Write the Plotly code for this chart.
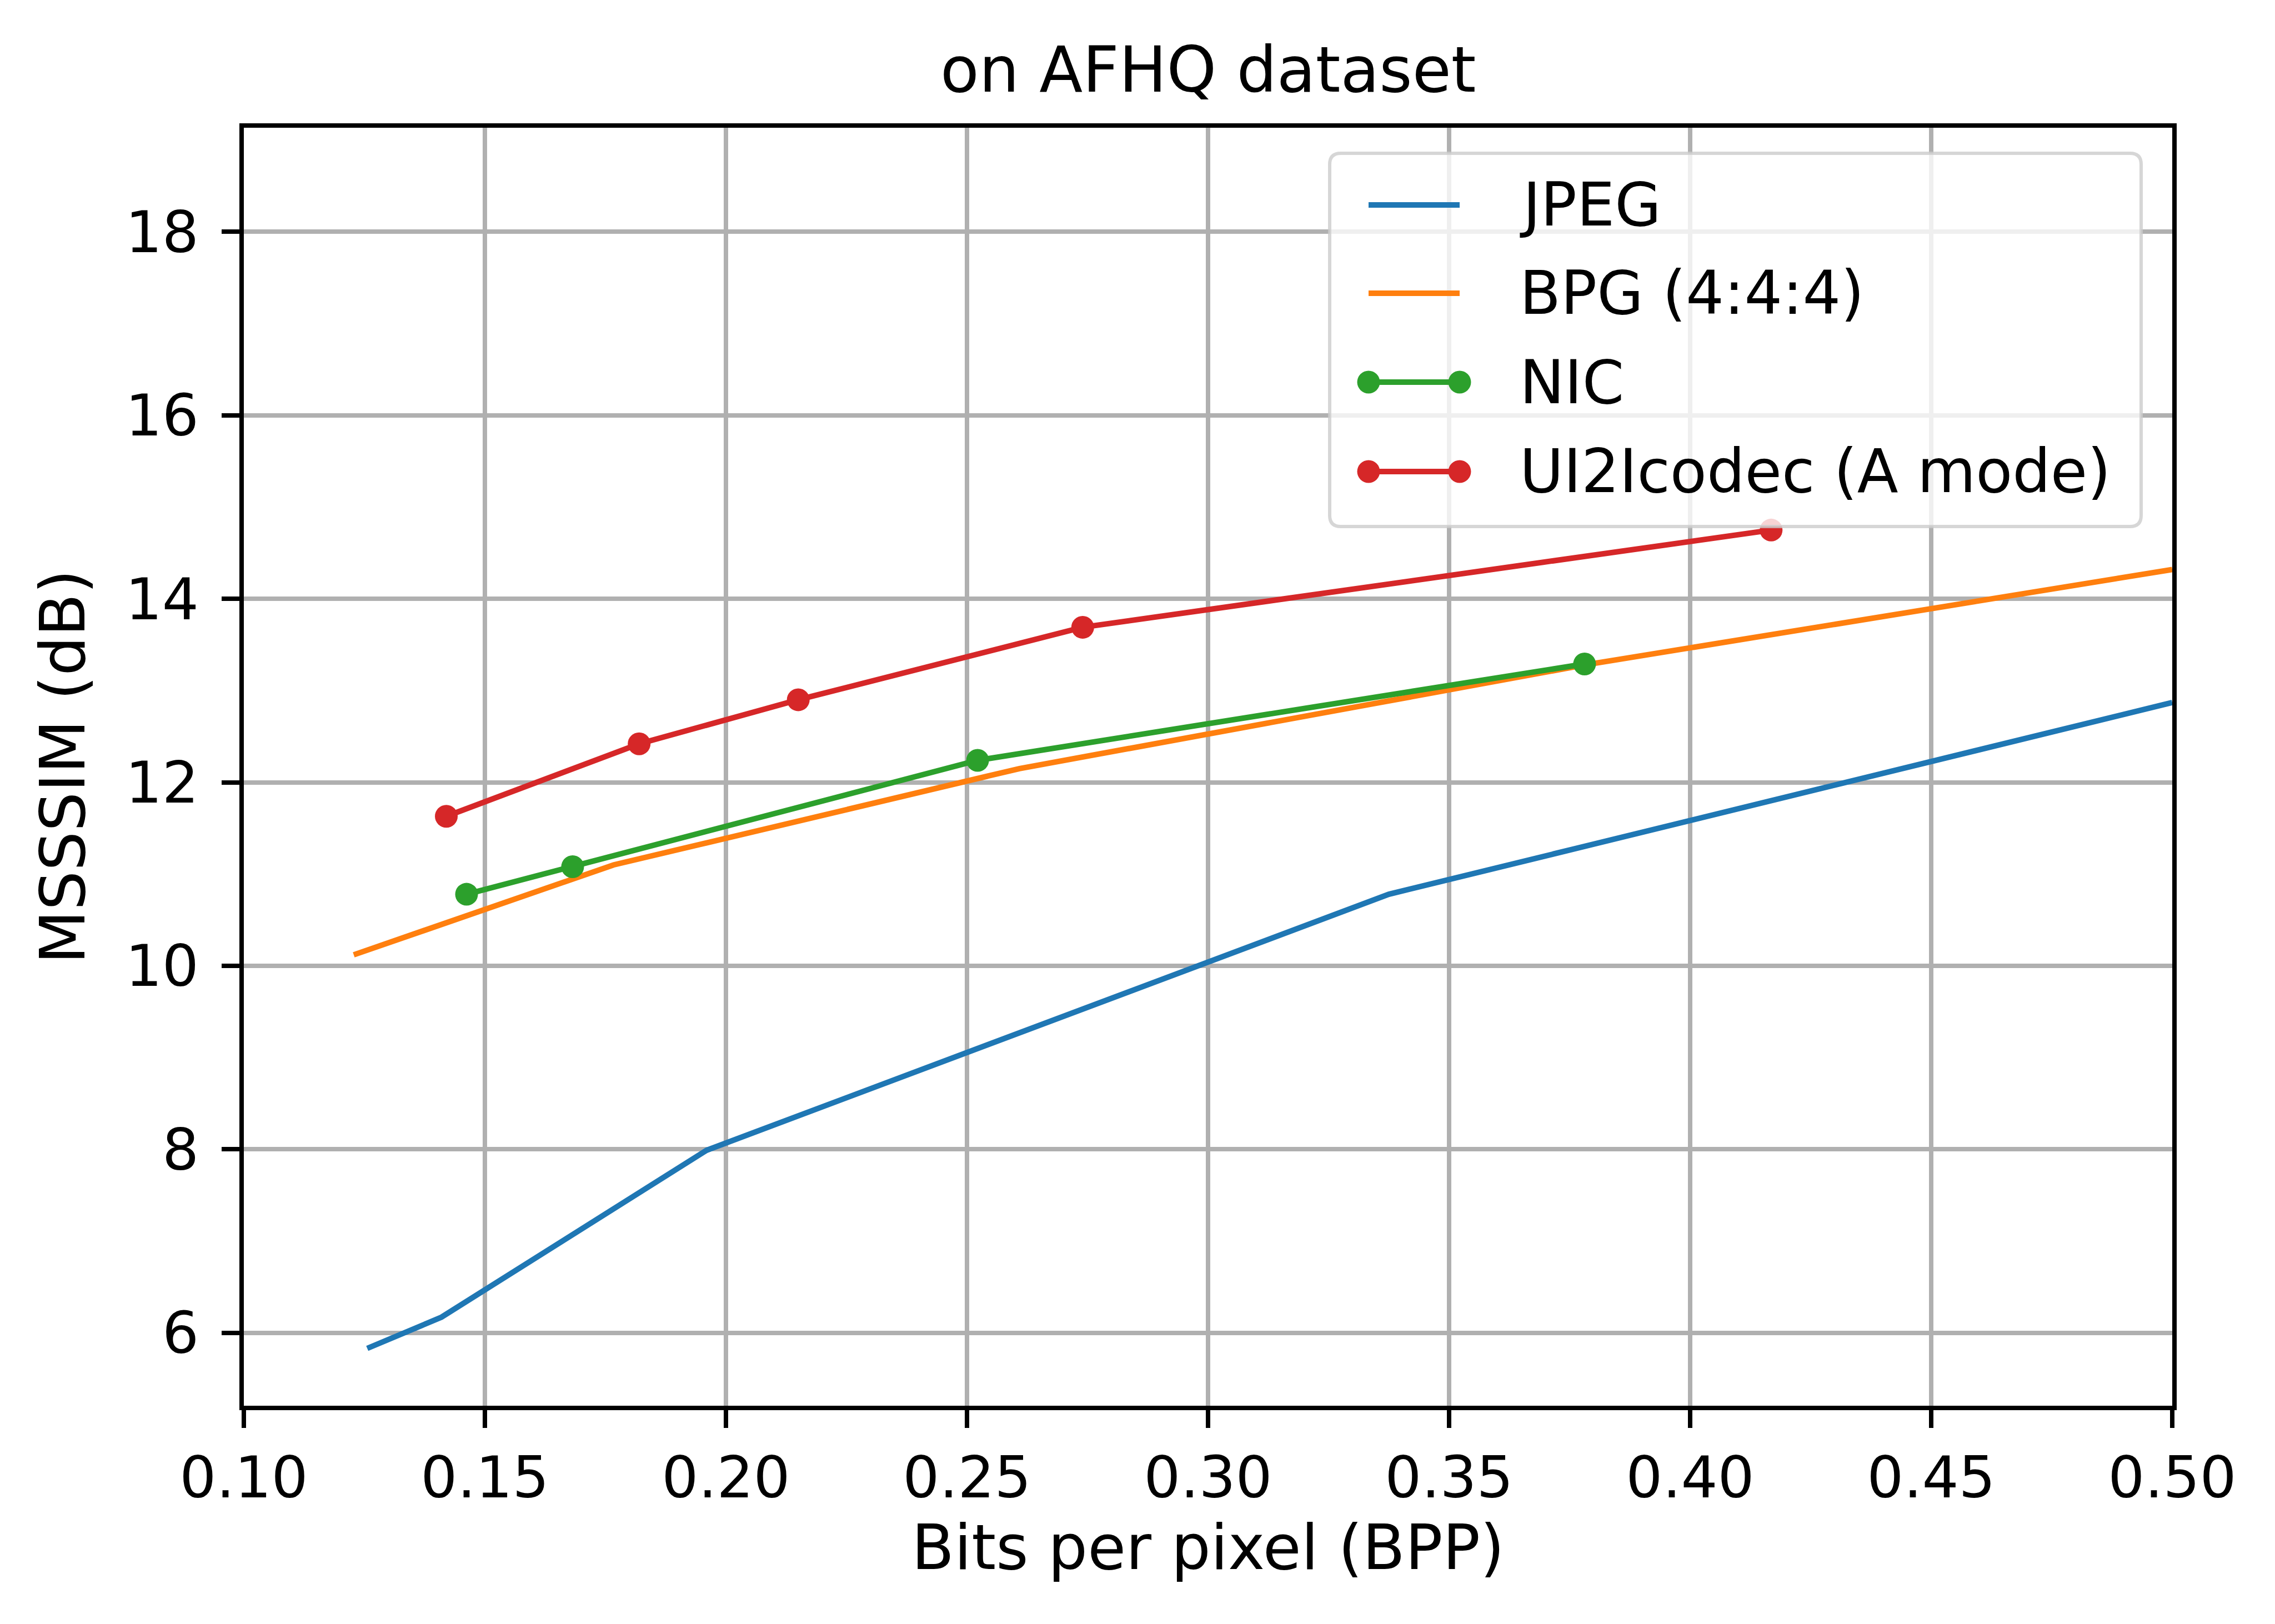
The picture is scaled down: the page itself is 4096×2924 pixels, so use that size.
import plotly.graph_objects as go

# ---------------- data ----------------
series_names = ["JPEG", "BPG (4:4:4)", "NIC", "UI2Icodec (A mode)"]
series_colors = ["#1f77b4", "#ff7f0e", "#2ca02c", "#d62728"]
series_markers = [False, False, True, True]

jpeg_bpp = [0.1256, 0.1410, 0.1960, 0.3375, 0.500]
jpeg_msssim = [5.83, 6.17, 7.99, 10.78, 12.87]

bpg_bpp = [0.1228, 0.1767, 0.2609, 0.3782, 0.500]
bpg_msssim = [10.12, 11.10, 12.15, 13.28, 14.32]

nic_bpp = [0.1462, 0.1682, 0.2522, 0.3781]
nic_msssim = [10.78, 11.08, 12.24, 13.29]

ui2i_bpp = [0.1420, 0.1820, 0.2150, 0.2740, 0.4168]
ui2i_msssim = [11.63, 12.42, 12.90, 13.69, 14.75]

x_ticks = [0.10, 0.15, 0.20, 0.25, 0.30, 0.35, 0.40, 0.45, 0.50]
y_ticks = [6, 8, 10, 12, 14, 16, 18]

title_text = "on AFHQ dataset"
x_title = "Bits per pixel (BPP)"
y_title = "MSSSIM (dB)"

series_x = [jpeg_bpp, bpg_bpp, nic_bpp, ui2i_bpp]
series_y = [jpeg_msssim, bpg_msssim, nic_msssim, ui2i_msssim]

# ---------------- layout geometry ----------------
W, H = 4096, 2924
L, R, T, B = 431, 193, 222, 401
pw = W - L - R
ph = H - T - B


def px(xp):
    return (xp - L) / pw


def py(yp):
    return (H - B - yp) / ph


FONT = "DejaVu Sans"
LW = 10
MS = 41

fig = go.Figure()
for name, xs, ys, col, mk in zip(series_names, series_x, series_y, series_colors, series_markers):
    fig.add_trace(go.Scatter(
        x=xs, y=ys, name=name,
        mode="lines+markers" if mk else "lines",
        line=dict(color=col, width=LW),
        marker=dict(size=MS, color=col, line=dict(width=0)),
        showlegend=False,
    ))

axis_common = dict(
    showgrid=True, gridcolor="#b0b0b0", gridwidth=8,
    showline=True, linecolor="black", linewidth=8.3, mirror=True,
    ticks="outside", ticklen=32, tickwidth=8.3, tickcolor="black",
    tickfont=dict(family=FONT, size=104, color="black"),
    zeroline=False,
)

fig.update_layout(
    width=W, height=H,
    margin=dict(l=L, r=R, t=T, b=B, autoexpand=False),
    plot_bgcolor="white", paper_bgcolor="white",
    font=dict(family=FONT, color="black"),
    xaxis=dict(
        range=[0.10, 0.50], tickvals=x_ticks,
        ticktext=[f"{v:.2f}" for v in x_ticks],
        ticklabelstandoff=0,
        title=dict(text=x_title, font=dict(family=FONT, size=112), standoff=24),
        automargin=False,
        **axis_common,
    ),
    yaxis=dict(
        range=[5.205, 19.135], tickvals=y_ticks,
        ticktext=[str(v) for v in y_ticks],
        ticklabelstandoff=20,
        title=dict(text=y_title, font=dict(family=FONT, size=112), standoff=39),
        automargin=False,
        **axis_common,
    ),
    showlegend=False,
)

# title
fig.add_annotation(
    text=title_text, xref="paper", yref="paper", x=0.5, y=1.0,
    xanchor="center", yanchor="bottom", yshift=36, showarrow=False,
    font=dict(family=FONT, size=114, color="black"),
)

# ---------------- legend (matplotlib-style) ----------------
lx0, lx1, ly0, ly1 = px(2386), px(3847), py(940), py(268)
rx, ry = 20 / pw, 20 / ph
path = (f"M {lx0+rx},{ly0} L {lx1-rx},{ly0} Q {lx1},{ly0} {lx1},{ly0+ry} "
        f"L {lx1},{ly1-ry} Q {lx1},{ly1} {lx1-rx},{ly1} "
        f"L {lx0+rx},{ly1} Q {lx0},{ly1} {lx0},{ly1-ry} "
        f"L {lx0},{ly0+ry} Q {lx0},{ly0} {lx0+rx},{ly0} Z")
fig.add_shape(type="path", path=path, xref="paper", yref="paper",
              fillcolor="rgba(255,255,255,0.8)",
              line=dict(color="rgba(204,204,204,0.8)", width=6), layer="above")

entry_y_px = [361, 520, 680, 841]
hx0, hx1, tx = px(2456), px(2620), px(2726)
for name, col, mk, eyp in zip(series_names, series_colors, series_markers, entry_y_px):
    ey = py(eyp)
    fig.add_shape(type="line", xref="paper", yref="paper", x0=hx0, x1=hx1, y0=ey, y1=ey,
                  line=dict(color=col, width=LW), layer="above")
    if mk:
        for hx in (hx0, hx1):
            fig.add_shape(type="circle", xref="paper", yref="paper",
                          xsizemode="pixel", ysizemode="pixel", xanchor=hx, yanchor=ey,
                          x0=-MS / 2, x1=MS / 2, y0=-MS / 2, y1=MS / 2,
                          fillcolor=col, line=dict(width=0), layer="above")
    fig.add_annotation(text=name, xref="paper", yref="paper", x=tx, y=ey,
                       xanchor="left", yanchor="middle", showarrow=False,
                       font=dict(family=FONT, size=108, color="black"))

fig.write_html("out.html")
